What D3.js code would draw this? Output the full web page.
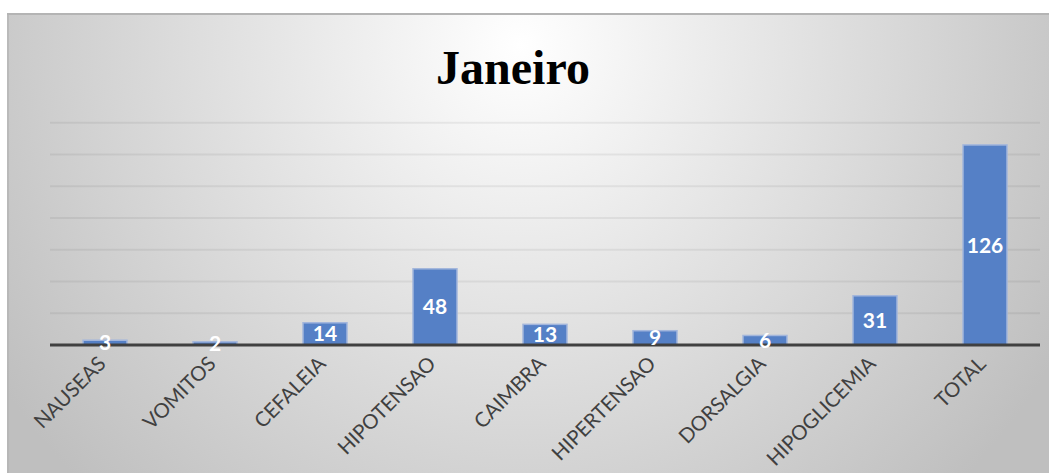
<!DOCTYPE html>
<html>
<head>
<meta charset="utf-8">
<script src="https://cdn.jsdelivr.net/npm/d3@7"></script>
<style>
  html, body { margin: 0; padding: 0; background: #ffffff; }
  svg { display: block; }
</style>
</head>
<body>
<script>
const categories = ["NAUSEAS", "VOMITOS", "CEFALEIA", "HIPOTENSAO", "CAIMBRA", "HIPERTENSAO", "DORSALGIA", "HIPOGLICEMIA", "TOTAL"];
const values = [3, 2, 14, 48, 13, 9, 6, 31, 126];
const gridTicks = [0, 20, 40, 60, 80, 100, 120, 140];
const title = "Janeiro";

const W = 1049, H = 473;
const svg = d3.select("body").append("svg").attr("width", W).attr("height", H);

const defs = svg.append("defs");
const rg = defs.append("radialGradient").attr("id", "bg")
  .attr("gradientUnits", "userSpaceOnUse")
  .attr("cx", 520).attr("cy", 45).attr("r", 620);
rg.append("stop").attr("offset", "0").attr("stop-color", "#ffffff");
rg.append("stop").attr("offset", "1").attr("stop-color", "#bfbfbf");

// chart area frame
svg.append("rect").attr("x", 7).attr("y", 13).attr("width", W - 7).attr("height", H - 13)
  .attr("fill", "url(#bg)");
svg.append("line").attr("x1", 7).attr("x2", W).attr("y1", 14).attr("y2", 14)
  .attr("stroke", "#b4b4b4").attr("stroke-width", 2);
svg.append("line").attr("x1", 8).attr("x2", 8).attr("y1", 13).attr("y2", H)
  .attr("stroke", "#b4b4b4").attr("stroke-width", 1.5);

const x = d3.scaleBand().domain(categories).range([50, 1040]).paddingInner(0.6).paddingOuter(0.3);
const y = d3.scaleLinear().domain([0, 140]).range([345, 122.7]);

// gridlines
svg.append("g").selectAll("line").data(gridTicks.filter(d => d > 0)).join("line")
  .attr("x1", 50).attr("x2", 1040)
  .attr("y1", d => y(d)).attr("y2", d => y(d))
  .attr("stroke", "rgba(0,0,0,0.06)").attr("stroke-width", 2);

// title
svg.append("text").attr("x", 513).attr("y", 84).attr("text-anchor", "middle")
  .attr("font-family", "'Liberation Serif', 'Times New Roman', serif")
  .attr("font-weight", "bold").attr("font-size", 48).attr("fill", "#000")
  .text(title);

// bars
svg.append("g").selectAll("rect").data(values).join("rect")
  .attr("x", (d, i) => x(categories[i]))
  .attr("y", d => y(d))
  .attr("width", x.bandwidth())
  .attr("height", d => y(0) - y(d))
  .attr("fill", "#5580c6")
  .attr("stroke", "#a3b6dc").attr("stroke-width", 1.5);

// axis baseline
svg.append("line").attr("x1", 50).attr("x2", 1040).attr("y1", y(0)).attr("y2", y(0))
  .attr("stroke", "#404040").attr("stroke-width", 3);

// value labels
svg.append("g").selectAll("text").data(values).join("text")
  .attr("x", (d, i) => x(categories[i]) + x.bandwidth() / 2)
  .attr("y", d => (y(d) + y(0)) / 2)
  .attr("dy", "0.36em")
  .attr("text-anchor", "middle")
  .attr("font-family", "Lato, 'Open Sans', sans-serif")
  .attr("font-weight", "bold").attr("font-size", 21).attr("fill", "#ffffff")
  .text(d => d);

// category labels
svg.append("g").selectAll("text").data(categories).join("text")
  .attr("transform", d => `translate(${x(d) + x.bandwidth() / 2 - 8},${y(0) + 10}) rotate(-45)`)
  .attr("text-anchor", "end")
  .attr("dy", "0.7em")
  .attr("font-family", "Lato, 'Open Sans', sans-serif")
  .attr("font-size", 20.3).attr("fill", "#404040")
  .text(d => d);
</script>
</body>
</html>
